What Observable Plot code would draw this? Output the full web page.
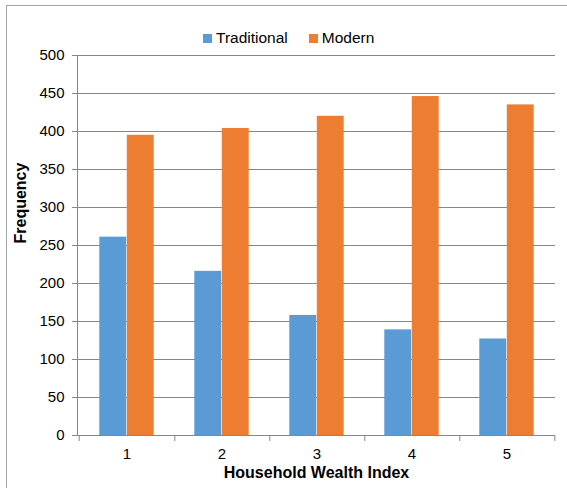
<!DOCTYPE html>
<html>
<head>
<meta charset="utf-8">
<script src="https://cdn.jsdelivr.net/npm/d3@7"></script>
<script src="https://cdn.jsdelivr.net/npm/@observablehq/plot@0.6"></script>
<style>
  html, body { margin: 0; padding: 0; background: #fff; }
  #wrap { position: relative; width: 567px; height: 488px; overflow: hidden; font-family: "Liberation Sans", Arial, sans-serif; }
  #border { position: absolute; left: 6px; top: 5px; width: 600px; height: 600px; border-left: 1px solid #a6a6a6; border-top: 1px solid #a6a6a6; box-sizing: border-box; }
  #legend { position: absolute; top: 29px; left: 203px; display: flex; align-items: center; font-size: 15.5px; color: #000; white-space: nowrap; }
  #legend .item { display: flex; align-items: center; }
  #legend .sw { width: 9px; height: 9px; margin-right: 4px; }
  #legend .item + .item { margin-left: 21px; }
  #chart { position: absolute; left: 0; top: 0; }
</style>
</head>
<body>
<div id="wrap">
  <div id="border"></div>
  <div id="chart"></div>
  <div id="legend"></div>
</div>
<script>
const categories = [1, 2, 3, 4, 5];
const series = ["Traditional", "Modern"];
const traditional = [261, 216, 158, 139, 127];
const modern = [395, 404, 420, 446, 435];
const yTicks = [0, 50, 100, 150, 200, 250, 300, 350, 400, 450, 500];
const colors = ["#5B9BD5", "#ED7D31"];
const xLabel = "Household Wealth Index";
const yLabel = "Frequency";

const data = [];
categories.forEach((c, i) => {
  data.push({cat: c, series: "Traditional", value: traditional[i]});
  data.push({cat: c, series: "Modern", value: modern[i]});
});

const W = 567, H = 488, mL = 77, mR = 12, mT = 55, mB = 53;
const band = (W - mL - mR) / categories.length;
const barW = 27.5;
const outer = band / 2 - barW;
const grid = "#878787";

const plot = Plot.plot({
  width: W,
  height: H,
  marginLeft: mL,
  marginRight: mR,
  marginTop: mT,
  marginBottom: mB,
  style: {fontFamily: "Liberation Sans, Arial, sans-serif", fontSize: "15px", color: "#000", background: "transparent"},
  x: {type: "band", domain: categories, padding: 0, label: null},
  y: {domain: [0, 500], label: null},
  color: {domain: series, range: colors},
  marks: [
    Plot.gridY(yTicks, {stroke: grid, strokeOpacity: 1}),
    Plot.frame({anchor: "left", stroke: grid}),
    Plot.axisY(yTicks, {tickSize: 5, tickPadding: 8, stroke: grid, fill: "#000", fontSize: 15, label: null}),
    Plot.barY(data.filter(d => d.series === "Traditional"), {x: "cat", y: "value", fill: d => d.series, insetLeft: outer, insetRight: band / 2}),
    Plot.barY(data.filter(d => d.series === "Modern"), {x: "cat", y: "value", fill: d => d.series, insetLeft: band / 2, insetRight: outer}),
    Plot.ruleY([0], {stroke: grid}),
    Plot.axisX({tickSize: 0, tickPadding: 13, fill: "#000", fontSize: 15, label: null}),
    Plot.axisX({text: null, tickSize: 6, dx: band / 2, stroke: grid, label: null}),
    Plot.axisX([categories[0]], {text: null, tickSize: 6, dx: -band / 2, stroke: grid, label: null}),
    Plot.text([xLabel], {frameAnchor: "bottom", dy: 42, fontWeight: "bold", fontSize: 16, fill: "#000"}),
    Plot.text([yLabel], {frameAnchor: "left", dx: -57, dy: -2, rotate: -90, fontWeight: "bold", fontSize: 16, fill: "#000"})
  ]
});
document.getElementById("chart").appendChild(plot);

const legend = document.getElementById("legend");
series.forEach((s, i) => {
  const item = document.createElement("div");
  item.className = "item";
  const sw = document.createElement("div");
  sw.className = "sw";
  sw.style.background = colors[i];
  const t = document.createElement("span");
  t.textContent = s;
  item.appendChild(sw);
  item.appendChild(t);
  legend.appendChild(item);
});
</script>
</body>
</html>
